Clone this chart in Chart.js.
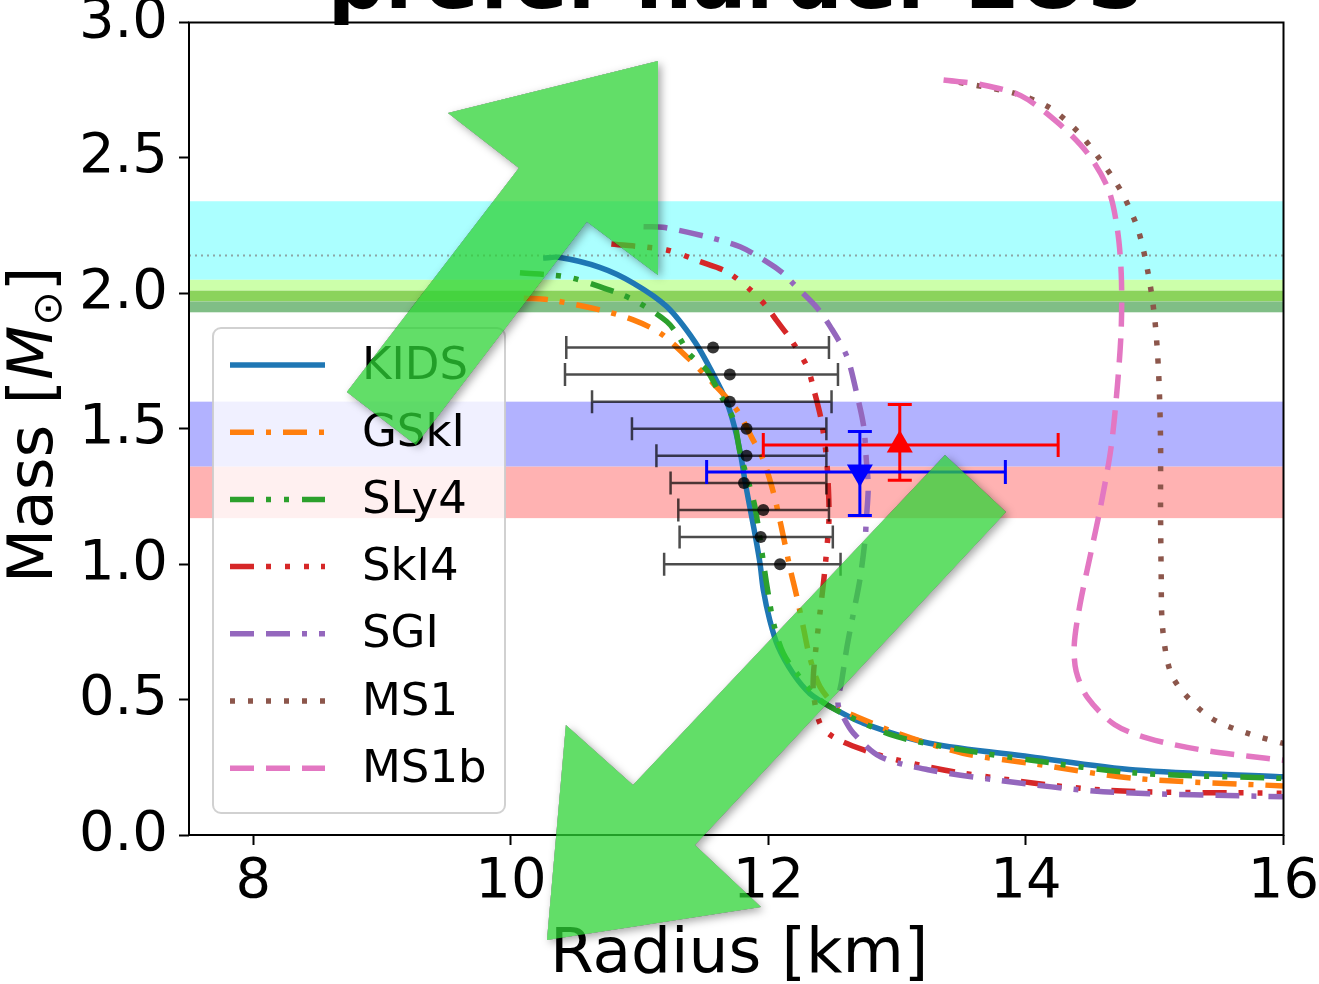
<!DOCTYPE html>
<html>
<head>
<meta charset="utf-8">
<script src="https://cdn.jsdelivr.net/npm/chart.js@4.4.1/dist/chart.umd.min.js"></script>
<style>
  html, body { margin: 0; padding: 0; background: #fff; }
  #wrap { width: 1319px; height: 984px; }
</style>
</head>
<body>
<div id="wrap"><canvas id="mr" width="1319" height="984"></canvas></div>
<script>
// ticks
const xTicks = [8, 10, 12, 14, 16];
const yTicks = [0, 0.5, 1.0, 1.5, 2.0, 2.5, 3.0];

// mass-radius curves, radius in km, mass in solar masses
const kidsR = [10.25, 10.37, 10.69, 10.95, 11.21, 11.43, 11.57, 11.675, 11.74, 11.785, 11.82, 11.86, 11.90, 11.935, 11.96, 12.01, 12.075, 12.19, 12.32, 12.48, 12.74, 13.25, 14.03, 14.85, 16.0];
const kidsM = [2.13, 2.133, 2.096, 2.038, 1.951, 1.82, 1.702, 1.601, 1.500, 1.402, 1.301, 1.200, 1.099, 1.001, 0.905, 0.794, 0.695, 0.597, 0.523, 0.474, 0.412, 0.339, 0.289, 0.240, 0.215];

const gskiR = [10.10, 10.30, 10.69, 10.95, 11.16, 11.365, 11.57, 11.755, 11.88, 11.96, 12.04, 12.10, 12.165, 12.22, 12.27, 12.32, 12.40, 12.53, 12.685, 13.0, 13.51, 14.03, 14.85, 16.0];
const gskiM = [1.982, 1.976, 1.939, 1.902, 1.853, 1.766, 1.668, 1.569, 1.459, 1.385, 1.262, 1.138, 0.991, 0.880, 0.769, 0.658, 0.548, 0.474, 0.437, 0.376, 0.302, 0.265, 0.209, 0.181];

const sly4R = [10.07, 10.43, 10.69, 10.95, 11.21, 11.31, 11.38, 11.52, 11.62, 11.73, 11.78, 11.84, 11.895, 11.947, 11.985, 12.04, 12.115, 12.22, 12.40, 12.63, 13.0, 13.51, 14.03, 14.85, 16.0];
const sly4M = [2.076, 2.061, 2.025, 1.976, 1.896, 1.835, 1.779, 1.717, 1.631, 1.532, 1.410, 1.311, 1.212, 1.052, 0.93, 0.782, 0.671, 0.597, 0.499, 0.437, 0.363, 0.314, 0.277, 0.229, 0.209];

const ski4R = [10.78, 11.21, 11.47, 11.675, 11.86, 11.985, 12.06, 12.18, 12.30, 12.36, 12.41, 12.447, 12.465, 12.47, 12.45, 12.43, 12.40, 12.37, 12.35, 12.35, 12.40, 12.50, 12.74, 13.0, 13.51, 14.6, 16.0];
const ski4M = [2.182, 2.160, 2.117, 2.080, 2.013, 1.951, 1.902, 1.825, 1.729, 1.631, 1.532, 1.410, 1.286, 1.163, 1.040, 0.942, 0.819, 0.695, 0.597, 0.523, 0.412, 0.363, 0.314, 0.277, 0.228, 0.166, 0.154];

const sgiR = [11.03, 11.18, 11.52, 11.78, 11.985, 12.115, 12.19, 12.37, 12.48, 12.61, 12.685, 12.74, 12.76, 12.775, 12.76, 12.75, 12.71, 12.66, 12.61, 12.57, 12.54, 12.58, 12.66, 12.87, 13.25, 13.77, 14.6, 16.0];
const sgiM = [2.246, 2.244, 2.209, 2.172, 2.117, 2.074, 2.037, 1.951, 1.877, 1.766, 1.631, 1.508, 1.385, 1.286, 1.163, 1.089, 0.942, 0.819, 0.695, 0.572, 0.486, 0.437, 0.376, 0.289, 0.240, 0.203, 0.160, 0.141];

const ms1R = [13.48, 13.9, 14.17, 14.40, 14.58, 14.74, 14.87, 14.95, 15.0, 15.03, 15.045, 15.045, 15.05, 15.06, 15.12, 15.23, 15.44, 15.73, 16.0];
const ms1M = [2.779, 2.74, 2.689, 2.598, 2.491, 2.376, 2.236, 2.071, 1.906, 1.708, 1.461, 1.214, 0.967, 0.769, 0.604, 0.522, 0.431, 0.374, 0.338];

const ms1bR = [13.36, 13.65, 13.96, 14.245, 14.48, 14.64, 14.71, 14.74, 14.74, 14.71, 14.66, 14.58, 14.50, 14.42, 14.375, 14.39, 14.48, 14.69, 14.95, 15.34, 15.73, 16.0];
const ms1bM = [2.788, 2.771, 2.730, 2.631, 2.516, 2.384, 2.236, 2.071, 1.873, 1.659, 1.428, 1.214, 1.033, 0.852, 0.703, 0.604, 0.506, 0.407, 0.357, 0.316, 0.291, 0.276];

// radius constraints at fixed mass (black error bars)
const obsM = [1.8, 1.7, 1.6, 1.5, 1.4, 1.3, 1.2, 1.1, 1.0];
const obsR = [11.57, 11.70, 11.70, 11.83, 11.83, 11.81, 11.96, 11.94, 12.09];
const obsRlo = [10.43, 10.42, 10.63, 10.94, 11.13, 11.24, 11.30, 11.31, 11.19];
const obsRhi = [12.47, 12.54, 12.49, 12.45, 12.45, 12.45, 12.47, 12.50, 12.56];

// NICER J0030 (red up triangle, blue down triangle)
const redR = 13.02, redRlo = 11.96, redRhi = 14.25, redM = 1.44, redMlo = 1.31, redMhi = 1.59;
const blueR = 12.71, blueRlo = 11.52, blueRhi = 13.84, blueM = 1.34, blueMlo = 1.18, blueMhi = 1.49;

// horizontal mass bands [low, high]
const bandLo = [2.05, 2.01, 1.97, 1.93, 1.36, 1.17];
const bandHi = [2.34, 2.05, 2.01, 1.97, 1.60, 1.36];
const bandColor = ['#abffff', '#ccffaa', '#8bd35c', '#80be86', '#b2b2ff', '#ffb2b2'];
const refMass = 2.14;

// arrow outlines in data units
const upArrowR = [8.726, 10.062, 9.511, 11.142, 11.142, 10.590, 9.262];
const upArrowM = [1.636, 2.463, 2.666, 2.858, 2.068, 2.264, 1.440];
const downArrowR = [13.371, 10.948, 10.427, 10.280, 11.942, 11.429, 13.845];
const downArrowM = [1.403, 0.185, 0.406, -0.388, -0.266, -0.037, 1.193];

const eos = [
  { label: 'KIDS', r: kidsR, m: kidsM, color: '#1f77b4', dash: [] },
  { label: 'GSkI', r: gskiR, m: gskiM, color: '#ff7f0e', dash: [24, 12, 5, 12] },
  { label: 'SLy4', r: sly4R, m: sly4M, color: '#2ca02c', dash: [24, 12, 5, 13, 5, 13] },
  { label: 'SkI4', r: ski4R, m: ski4M, color: '#d62728', dash: [24, 12, 5, 14, 5, 14, 5, 12] },
  { label: 'SGI', r: sgiR, m: sgiM, color: '#9467bd', dash: [24, 12, 24, 12, 5, 12] },
  { label: 'MS1', r: ms1R, m: ms1M, color: '#8c564b', dash: [5, 13] },
  { label: 'MS1b', r: ms1bR, m: ms1bM, color: '#e377c2', dash: [24, 12] }
];

const pts = (r, m) => r.map((v, i) => ({ x: v, y: m[i] }));

const datasets = eos.map((e, i) => ({
  label: e.label,
  data: pts(e.r, e.m),
  showLine: true,
  borderColor: e.color,
  borderWidth: 5.5,
  borderDash: e.dash,
  pointRadius: 0,
  tension: 0.3,
  fill: false,
  order: 20 - i
}));
datasets.push({
  label: 'obs',
  data: pts(obsR, obsM),
  pointRadius: 6,
  pointBackgroundColor: 'rgba(0,0,0,0.78)',
  pointBorderWidth: 0,
  order: 1
});
datasets.push({
  label: 'red',
  data: [{ x: redR, y: redM }],
  pointStyle: 'triangle',
  pointRadius: 15,
  pointBackgroundColor: 'red',
  pointBorderWidth: 0,
  order: 0
});
datasets.push({
  label: 'blue',
  data: [{ x: blueR, y: blueM }],
  pointStyle: 'triangle',
  rotation: 180,
  pointRadius: 15,
  pointBackgroundColor: 'blue',
  pointBorderWidth: 0,
  order: 0
});

function hBar(ctx, xs, ys, r0, r1, m, cap) {
  const a = xs.getPixelForValue(r0), b = xs.getPixelForValue(r1), y = ys.getPixelForValue(m);
  ctx.beginPath();
  ctx.moveTo(a, y); ctx.lineTo(b, y);
  ctx.moveTo(a, y - cap); ctx.lineTo(a, y + cap);
  ctx.moveTo(b, y - cap); ctx.lineTo(b, y + cap);
  ctx.stroke();
}
function vBar(ctx, xs, ys, r, m0, m1, cap) {
  const x = xs.getPixelForValue(r), a = ys.getPixelForValue(m0), b = ys.getPixelForValue(m1);
  ctx.beginPath();
  ctx.moveTo(x, a); ctx.lineTo(x, b);
  ctx.moveTo(x - cap, a); ctx.lineTo(x + cap, a);
  ctx.moveTo(x - cap, b); ctx.lineTo(x + cap, b);
  ctx.stroke();
}
function arrowPath(ctx, xs, ys, ar, am) {
  ar.forEach((r, i) => {
    const px = xs.getPixelForValue(r), py = ys.getPixelForValue(am[i]);
    if (i === 0) ctx.moveTo(px, py); else ctx.lineTo(px, py);
  });
  ctx.closePath();
}

const decor = {
  id: 'decor',
  beforeDatasetsDraw(chart) {
    const { ctx, chartArea: ca, scales: { y: ys } } = chart;
    ctx.save();
    bandLo.forEach((lo, i) => {
      const yt = ys.getPixelForValue(bandHi[i]), yb = ys.getPixelForValue(lo);
      ctx.fillStyle = bandColor[i];
      ctx.fillRect(ca.left, yt, ca.right - ca.left, yb - yt);
    });
    const yr = ys.getPixelForValue(refMass);
    ctx.strokeStyle = 'rgba(128,128,128,0.7)';
    ctx.lineWidth = 2;
    ctx.setLineDash([2, 4]);
    ctx.beginPath(); ctx.moveTo(ca.left, yr); ctx.lineTo(ca.right, yr); ctx.stroke();
    ctx.restore();
  },
  afterDatasetsDraw(chart) {
    const { ctx, chartArea: ca, scales: { x: xs, y: ys } } = chart;
    ctx.save();
    // black error bars
    ctx.strokeStyle = 'rgba(0,0,0,0.7)';
    ctx.lineWidth = 2.5;
    obsM.forEach((m, i) => hBar(ctx, xs, ys, obsRlo[i], obsRhi[i], m, 11.5));
    // NICER error bars
    ctx.lineWidth = 3;
    ctx.strokeStyle = 'red';
    hBar(ctx, xs, ys, redRlo, redRhi, redM, 12);
    vBar(ctx, xs, ys, redR, redMlo, redMhi, 12);
    ctx.strokeStyle = 'blue';
    hBar(ctx, xs, ys, blueRlo, blueRhi, blueM, 12);
    vBar(ctx, xs, ys, blueR, blueMlo, blueMhi, 12);
    // frame
    ctx.strokeStyle = '#000';
    ctx.lineWidth = 2;
    ctx.strokeRect(ca.left, ca.top, ca.right - ca.left, ca.bottom - ca.top);
    // legend
    const lx = 213, ly = 328, lw = 292, lh = 485;
    ctx.beginPath();
    ctx.roundRect(lx, ly, lw, lh, 8);
    ctx.fillStyle = 'rgba(255,255,255,0.8)';
    ctx.fill();
    ctx.strokeStyle = 'rgba(204,204,204,0.9)';
    ctx.lineWidth = 2;
    ctx.stroke();
    ctx.font = '45px "DejaVu Sans"';
    ctx.textBaseline = 'middle';
    ctx.textAlign = 'left';
    eos.forEach((e, i) => {
      const y = 365 + i * 67.2;
      ctx.strokeStyle = e.color;
      ctx.lineWidth = 5.5;
      ctx.setLineDash(e.dash);
      ctx.beginPath(); ctx.moveTo(230, y); ctx.lineTo(325, y); ctx.stroke();
      ctx.setLineDash([]);
      ctx.fillStyle = '#000';
      ctx.fillText(e.label, 362, y + 2);
    });
    ctx.restore();
  },
  afterDraw(chart) {
    const { ctx, chartArea: ca, scales: { x: xs, y: ys } } = chart;
    ctx.save();
    const cx = (ca.left + ca.right) / 2;
    // title (cut off by the top edge)
    ctx.fillStyle = '#000';
    ctx.font = 'bold 80px "DejaVu Sans"';
    ctx.textAlign = 'center';
    ctx.textBaseline = 'alphabetic';
    ctx.fillText('prefer harder EOS', cx, 8);
    // x title
    ctx.font = '63px "DejaVu Sans"';
    ctx.fillText('Radius [km]', cx + 3, 972);
    // y title with subscript
    ctx.save();
    ctx.translate(52, 425);
    ctx.rotate(-Math.PI / 2);
    const parts = [['Mass [', '63px "DejaVu Sans"', 0], ['M', 'italic 63px "DejaVu Sans"', 0], ['\u2299', '41px "DejaVu Sans"', 9], [']', '63px "DejaVu Sans"', 0]];
    let total = 0;
    parts.forEach(p => { ctx.font = p[1]; p.w = ctx.measureText(p[0]).width; total += p.w; });
    let tx = -total / 2;
    ctx.textAlign = 'left';
    parts.forEach(p => { ctx.font = p[1]; ctx.fillText(p[0], tx, p[2]); tx += p.w; });
    ctx.restore();
    // green arrows: soft shadow outside the shape, then the translucent body
    const W = chart.width, H = chart.height;
    [[upArrowR, upArrowM], [downArrowR, downArrowM]].forEach(([ar, am]) => {
      ctx.save();
      ctx.beginPath();
      ctx.rect(0, 0, W, H);
      arrowPath(ctx, xs, ys, ar, am);
      ctx.clip('evenodd');
      ctx.shadowColor = 'rgba(0,0,0,0.35)';
      ctx.shadowBlur = 8;
      ctx.shadowOffsetX = 3;
      ctx.shadowOffsetY = 3;
      ctx.fillStyle = '#000';
      ctx.beginPath();
      arrowPath(ctx, xs, ys, ar, am);
      ctx.fill();
      ctx.restore();
      ctx.fillStyle = 'rgba(46,211,54,0.75)';
      ctx.beginPath();
      arrowPath(ctx, xs, ys, ar, am);
      ctx.fill();
    });
    ctx.restore();
  }
};

Chart.defaults.font.family = '"DejaVu Sans"';
Chart.defaults.color = '#000';

new Chart(document.getElementById('mr'), {
  type: 'scatter',
  data: { datasets: datasets },
  options: {
    responsive: false,
    animation: false,
    events: [],
    devicePixelRatio: 1,
    layout: { autoPadding: false, padding: { top: 22.5, right: 35.5, left: 0, bottom: 0 } },
    plugins: { legend: { display: false }, tooltip: { enabled: false }, title: { display: false } },
    scales: {
      x: {
        type: 'linear',
        min: 7.5,
        max: 16,
        afterBuildTicks: s => { s.ticks = xTicks.map(v => ({ value: v })); },
        afterFit: s => { s.height = 149; s.paddingLeft = 0; s.paddingRight = 0; },
        ticks: { font: { size: 56 }, padding: 4, maxRotation: 0, callback: v => String(v) },
        grid: { drawOnChartArea: false, tickLength: 10, tickWidth: 2, tickColor: '#000' },
        border: { display: false }
      },
      y: {
        type: 'linear',
        min: 0,
        max: 3,
        afterBuildTicks: s => { s.ticks = yTicks.map(v => ({ value: v })); },
        afterFit: s => { s.width = 189; s.paddingTop = 0; s.paddingBottom = 0; },
        ticks: { font: { size: 56 }, padding: 11, callback: v => v.toFixed(1) },
        grid: { drawOnChartArea: false, tickLength: 10, tickWidth: 2, tickColor: '#000' },
        border: { display: false }
      }
    }
  },
  plugins: [decor]
});
</script>
</body>
</html>
